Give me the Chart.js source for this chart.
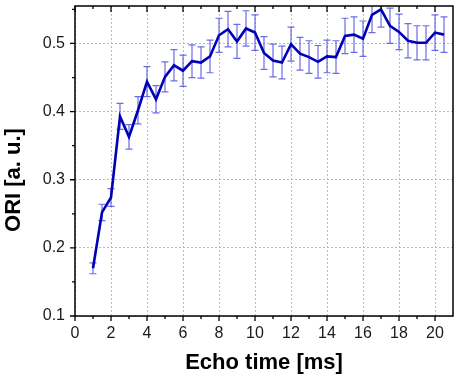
<!DOCTYPE html>
<html lang="en">
<head>
  <meta charset="UTF-8">
  <title>ORI vs Echo time</title>
  <script src="https://cdn.jsdelivr.net/npm/chart.js"></script>
  <style>
    body {
      margin: 0;
      background: #ffffff;
    }
    #wrap {
      width: 457px;
      height: 377px;
    }
  </style>
</head>
<body>
  <div id="wrap"><canvas id="oriChart" width="457" height="377"></canvas></div>

  <script>
    // Echo times (ms)
    const echoTimes = [1, 1.5, 2, 2.5, 3, 3.5, 4, 4.5, 5, 5.5, 6, 6.5, 7, 7.5, 8, 8.5, 9, 9.5, 10, 10.5,
                       11, 11.5, 12, 12.5, 13, 13.5, 14, 14.5, 15, 15.5, 16, 16.5, 17, 17.5, 18, 18.5, 19, 19.5, 20, 20.5];
    // ORI values (a. u.)
    const oriValues = [0.170, 0.252, 0.274, 0.393, 0.363, 0.402, 0.444, 0.418, 0.451, 0.468,
                       0.460, 0.474, 0.472, 0.481, 0.512, 0.521, 0.503, 0.522, 0.516, 0.486,
                       0.475, 0.472, 0.499, 0.485, 0.480, 0.473, 0.481, 0.480, 0.511, 0.513,
                       0.507, 0.542, 0.550, 0.526, 0.517, 0.504, 0.501, 0.501, 0.516, 0.513];
    // error bar half-widths
    const oriErrors = [0.008, 0.012, 0.013, 0.019, 0.018, 0.020, 0.022, 0.020, 0.022, 0.023,
                       0.023, 0.024, 0.023, 0.024, 0.025, 0.026, 0.025, 0.026, 0.026, 0.024,
                       0.024, 0.024, 0.025, 0.024, 0.024, 0.024, 0.024, 0.024, 0.026, 0.026,
                       0.026, 0.026, 0.026, 0.026, 0.026, 0.025, 0.025, 0.025, 0.026, 0.026];

    const xTicks = [0, 2, 4, 6, 8, 10, 12, 14, 16, 18, 20];
    const xMinorTicks = [1, 3, 5, 7, 9, 11, 13, 15, 17, 19];
    const yTicks = [0.1, 0.2, 0.3, 0.4, 0.5];
    const yMinorTicks = [0.15, 0.25, 0.35, 0.45, 0.55];

    const tickFont = { family: '"Liberation Sans", Arial, sans-serif', size: 16 };

    // error bars, tick marks, frame and axis titles
    const decorations = {
      id: 'decorations',
      beforeDatasetsDraw(chart) {
        const { ctx, chartArea, scales } = chart;
        ctx.save();
        ctx.beginPath();
        ctx.rect(chartArea.left, chartArea.top, chartArea.right - chartArea.left, chartArea.bottom - chartArea.top);
        ctx.clip();
        ctx.strokeStyle = 'rgba(70, 70, 225, 0.8)';
        ctx.lineWidth = 1.2;
        echoTimes.forEach((t, i) => {
          const px = scales.x.getPixelForValue(t);
          const top = scales.y.getPixelForValue(oriValues[i] + oriErrors[i]);
          const bot = scales.y.getPixelForValue(oriValues[i] - oriErrors[i]);
          ctx.beginPath();
          ctx.moveTo(px, top); ctx.lineTo(px, bot);
          ctx.moveTo(px - 3.5, top); ctx.lineTo(px + 3.5, top);
          ctx.moveTo(px - 3.5, bot); ctx.lineTo(px + 3.5, bot);
          ctx.stroke();
        });
        ctx.restore();
      },
      afterDraw(chart) {
        const { ctx, chartArea, scales } = chart;
        const { left, right, top, bottom } = chartArea;
        ctx.save();
        ctx.strokeStyle = '#000';
        ctx.lineWidth = 1.3;

        // x tick marks: outward at bottom, inward at top
        ctx.beginPath();
        xTicks.forEach(v => {
          const px = scales.x.getPixelForValue(v);
          ctx.moveTo(px, bottom); ctx.lineTo(px, bottom + 5);
          ctx.moveTo(px, top); ctx.lineTo(px, top + 6);
        });
        xMinorTicks.forEach(v => {
          const px = scales.x.getPixelForValue(v);
          ctx.moveTo(px, bottom); ctx.lineTo(px, bottom + 3);
          ctx.moveTo(px, top); ctx.lineTo(px, top + 3);
        });
        // y tick marks outward on the left
        yTicks.forEach(v => {
          const py = scales.y.getPixelForValue(v);
          ctx.moveTo(left, py); ctx.lineTo(left - 5, py);
        });
        yMinorTicks.forEach(v => {
          const py = scales.y.getPixelForValue(v);
          ctx.moveTo(left, py); ctx.lineTo(left - 3, py);
        });
        ctx.stroke();

        // frame
        ctx.lineWidth = 1.5;
        ctx.strokeRect(left, top, right - left, bottom - top);

        // axis titles
        ctx.fillStyle = '#000';
        ctx.font = 'bold 22px "Liberation Sans", Arial, sans-serif';
        ctx.textAlign = 'center';
        ctx.textBaseline = 'middle';
        ctx.fillText('Echo time [ms]', (left + right) / 2, 363);
        ctx.translate(14, 180);
        ctx.rotate(-Math.PI / 2);
        ctx.fillText('ORI [a. u.]', 0, 0);
        ctx.restore();
      }
    };

    const chart = new Chart(document.getElementById('oriChart'), {
      type: 'line',
      data: {
        datasets: [{
          data: echoTimes.map((t, i) => ({ x: t, y: oriValues[i] })),
          borderColor: '#0000b4',
          borderWidth: 2.6,
          pointRadius: 0,
          tension: 0,
          fill: false
        }]
      },
      options: {
        responsive: false,
        animation: false,
        layout: { padding: { top: 6, right: 4, left: 0, bottom: 0 } },
        plugins: {
          legend: { display: false },
          tooltip: { enabled: false }
        },
        scales: {
          x: {
            type: 'linear',
            min: 0,
            max: 21,
            afterBuildTicks: s => { s.ticks = xTicks.map(v => ({ value: v })); },
            afterFit: s => { s.height = 61; s.paddingLeft = 0; s.paddingRight = 0; },
            grid: { color: '#b8b8b8', lineWidth: 1, drawTicks: false },
            border: { display: false, dash: [2, 2] },
            ticks: { font: tickFont, color: '#1a1a1a', padding: 8, maxRotation: 0, callback: v => String(v) }
          },
          y: {
            type: 'linear',
            min: 0.1,
            max: 0.555,
            afterBuildTicks: s => { s.ticks = yTicks.map(v => ({ value: v })); },
            afterFit: s => { s.width = 75; s.paddingTop = 0; s.paddingBottom = 0; },
            grid: { color: '#b8b8b8', lineWidth: 1, drawTicks: false },
            border: { display: false, dash: [2, 2] },
            ticks: { font: tickFont, color: '#1a1a1a', padding: 10, callback: v => v.toFixed(1) }
          }
        }
      },
      plugins: [decorations]
    });
  </script>
</body>
</html>
